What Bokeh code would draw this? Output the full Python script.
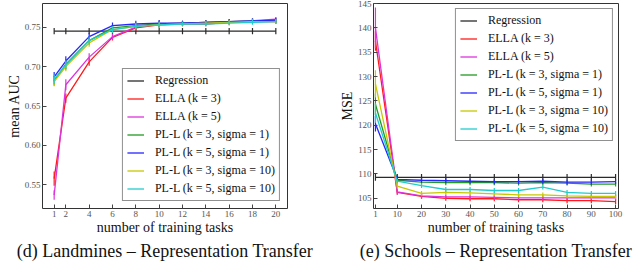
from bokeh.plotting import figure
from bokeh.models import Range1d, FixedTicker, PrintfTickFormatter, Legend, LegendItem
from bokeh.layouts import row
from bokeh.embed import file_html
from bokeh.resources import INLINE

names = ["Regression", "ELLA (k = 3)", "ELLA (k = 5)", "PL-L (k = 3, sigma = 1)",
         "PL-L (k = 5, sigma = 1)", "PL-L (k = 3, sigma = 10)", "PL-L (k = 5, sigma = 10)"]
colors = ["#2a2a2a", "#ff1a1a", "#dd33dd", "#239a23", "#2626ff", "#c8c800", "#22cccc"]

# Landmines
lm_x = [1, 2, 4, 6, 8, 10, 12, 14, 16, 18, 20]
lm_ticks = [1, 2, 4, 6, 8, 10, 12, 14, 16, 18, 20]
lm_yticks = [0.55, 0.60, 0.65, 0.70, 0.75]
lm_reg = [0.745] * 11
lm_ella3 = [0.558, 0.660, 0.706, 0.737, 0.749, 0.753, 0.754, 0.754, 0.756, 0.757, 0.757]
lm_ella5 = [0.537, 0.677, 0.712, 0.738, 0.750, 0.754, 0.755, 0.756, 0.757, 0.758, 0.760]
lm_pl31 = [0.682, 0.703, 0.733, 0.749, 0.752, 0.754, 0.755, 0.756, 0.757, 0.758, 0.758]
lm_pl51 = [0.687, 0.707, 0.738, 0.752, 0.754, 0.755, 0.755, 0.756, 0.757, 0.758, 0.759]
lm_pl310 = [0.681, 0.700, 0.730, 0.747, 0.751, 0.753, 0.754, 0.755, 0.756, 0.757, 0.757]
lm_pl510 = [0.684, 0.702, 0.733, 0.747, 0.751, 0.753, 0.754, 0.754, 0.755, 0.756, 0.757]
lm_err_reg = [0.004] * 11
lm_err_ella3 = [0.009, 0.006, 0.005, 0.004, 0.004, 0.004, 0.003, 0.003, 0.003, 0.003, 0.003]
lm_err_ella5 = [0.006, 0.007, 0.005, 0.004, 0.004, 0.004, 0.003, 0.003, 0.003, 0.003, 0.003]
lm_err_pl = [0.006, 0.006, 0.005, 0.004, 0.004, 0.004, 0.003, 0.003, 0.003, 0.003, 0.003]

# Schools
sc_x = [1, 10, 20, 30, 40, 50, 60, 70, 80, 90, 100]
sc_ticks = [1, 10, 20, 30, 40, 50, 60, 70, 80, 90, 100]
sc_yticks = [105, 110, 115, 120, 125, 130, 135, 140, 145]
sc_reg = [109.3] * 11
sc_ella3 = [137.3, 106.2, 105.4, 105.0, 104.9, 104.9, 104.7, 104.7, 104.5, 104.5, 104.3]
sc_ella5 = [140.0, 106.3, 105.5, 105.3, 105.3, 105.2, 105.1, 105.1, 105.1, 105.1, 105.1]
sc_pl31 = [124.3, 108.7, 108.3, 108.2, 108.2, 108.2, 108.1, 108.2, 108.1, 107.9, 107.9]
sc_pl51 = [120.3, 108.9, 108.7, 108.6, 108.5, 108.4, 108.4, 108.5, 108.3, 108.3, 108.4]
sc_pl310 = [128.5, 107.5, 106.0, 106.2, 106.1, 105.9, 105.7, 105.7, 105.5, 105.4, 105.4]
sc_pl510 = [122.5, 108.5, 107.6, 106.8, 106.8, 106.6, 106.6, 107.3, 106.2, 106.0, 106.0]
sc_err_reg = [0.7] * 11
sc_err_ella3 = [2.0, 0.5, 0.5, 0.5, 0.5, 0.5, 0.5, 0.5, 0.5, 0.5, 0.5]
sc_err_ella5 = [4.2, 0.5, 0.5, 0.5, 0.5, 0.5, 0.5, 0.5, 0.5, 0.5, 0.5]
sc_err_pl31 = [2.2, 0.5, 0.5, 0.5, 0.5, 0.5, 0.5, 0.5, 0.5, 0.5, 0.5]
sc_err_pl51 = [1.6, 0.5, 0.5, 0.5, 0.5, 0.5, 0.5, 0.5, 0.5, 0.5, 0.5]
sc_err_pl310 = [2.8, 0.5, 0.5, 0.5, 0.5, 0.5, 0.5, 0.5, 0.5, 0.5, 0.5]
sc_err_pl510 = [2.0, 0.5, 0.5, 0.5, 0.5, 0.5, 0.5, 0.5, 0.5, 0.5, 0.5]

SERIF = "Liberation Serif"


def panel(width, x, ys, errs, xr, yr, xticks, yticks, yfmt, ylabel, caption,
          border_left, border_right, legend_loc, legend_margin):
    p = figure(width=width, height=262, output_backend="svg", toolbar_location=None,
               x_range=Range1d(*xr), y_range=Range1d(*yr),
               min_border_left=border_left, min_border_right=border_right,
               min_border_top=3, min_border_bottom=0,
               title=caption, title_location="below")
    p.grid.visible = False
    p.outline_line_color = "#333333"
    p.outline_line_width = 1
    p.background_fill_color = "white"
    p.title.align = "center"
    p.title.text_font = SERIF
    p.title.text_font_size = "18px"
    p.title.text_font_style = "normal"
    p.title.text_color = "#111111"
    p.title.standoff = 3
    p.title.offset = 0

    for ax in (p.xaxis[0], p.yaxis[0]):
        ax.axis_line_color = None
        ax.major_tick_in = 4
        ax.major_tick_out = 0
        ax.minor_tick_line_color = None
        ax.major_tick_line_color = "#444444"
        ax.major_label_text_font = SERIF
        ax.major_label_text_font_size = "9px"
        ax.major_label_text_color = "#555555"
        ax.axis_label_text_font = SERIF
        ax.axis_label_text_font_style = "normal"
        ax.axis_label_text_font_size = "14px"
        ax.axis_label_text_color = "#111111"
        ax.major_label_standoff = 2
        ax.axis_label_standoff = 0
    p.xaxis[0].ticker = FixedTicker(ticks=xticks)
    p.yaxis[0].ticker = FixedTicker(ticks=yticks)
    p.yaxis[0].formatter = PrintfTickFormatter(format=yfmt)
    p.xaxis[0].axis_label = "number of training tasks"
    p.yaxis[0].axis_label = ylabel

    items = []
    for name, col, y, e in zip(names, colors, ys, errs):
        r = p.line(x, y, line_color=col, line_width=1.3)
        lo = [a - b for a, b in zip(y, e)]
        hi = [a + b for a, b in zip(y, e)]
        p.segment(x0=x, y0=lo, x1=x, y1=hi, line_color=col, line_width=1.2)
        items.append(LegendItem(label=name, renderers=[r]))

    leg = Legend(items=items, location=legend_loc, margin=legend_margin,
                 label_text_font=SERIF, label_text_font_size="12px",
                 label_text_color="#111111", label_height=13, glyph_height=13,
                 glyph_width=17, label_standoff=11, spacing=3, padding=4,
                 border_line_color="#222222", border_line_width=1,
                 background_fill_alpha=1.0)
    p.add_layout(leg, "center")
    return p


left = panel(320, lm_x,
             [lm_reg, lm_ella3, lm_ella5, lm_pl31, lm_pl51, lm_pl310, lm_pl510],
             [lm_err_reg, lm_err_ella3, lm_err_ella5, lm_err_pl, lm_err_pl, lm_err_pl, lm_err_pl],
             (0, 21), (0.52, 0.78), lm_ticks, lm_yticks, "%.2f", "mean AUC",
             "(d) Landmines \u2013 Representation Transfer", 42, 33, "bottom_right", 7)

right = panel(320, sc_x,
              [sc_reg, sc_ella3, sc_ella5, sc_pl31, sc_pl51, sc_pl310, sc_pl510],
              [sc_err_reg, sc_err_ella3, sc_err_ella5, sc_err_pl31, sc_err_pl51, sc_err_pl310, sc_err_pl510],
              (0.2, 101.2), (102.9, 145), sc_ticks, sc_yticks, "%d", "MSE",
              "(e) Schools \u2013 Representation Transfer", 53, 22, "top_right", 5)

layout = row(left, right)
open("out.html", "w").write(file_html(layout, INLINE))
